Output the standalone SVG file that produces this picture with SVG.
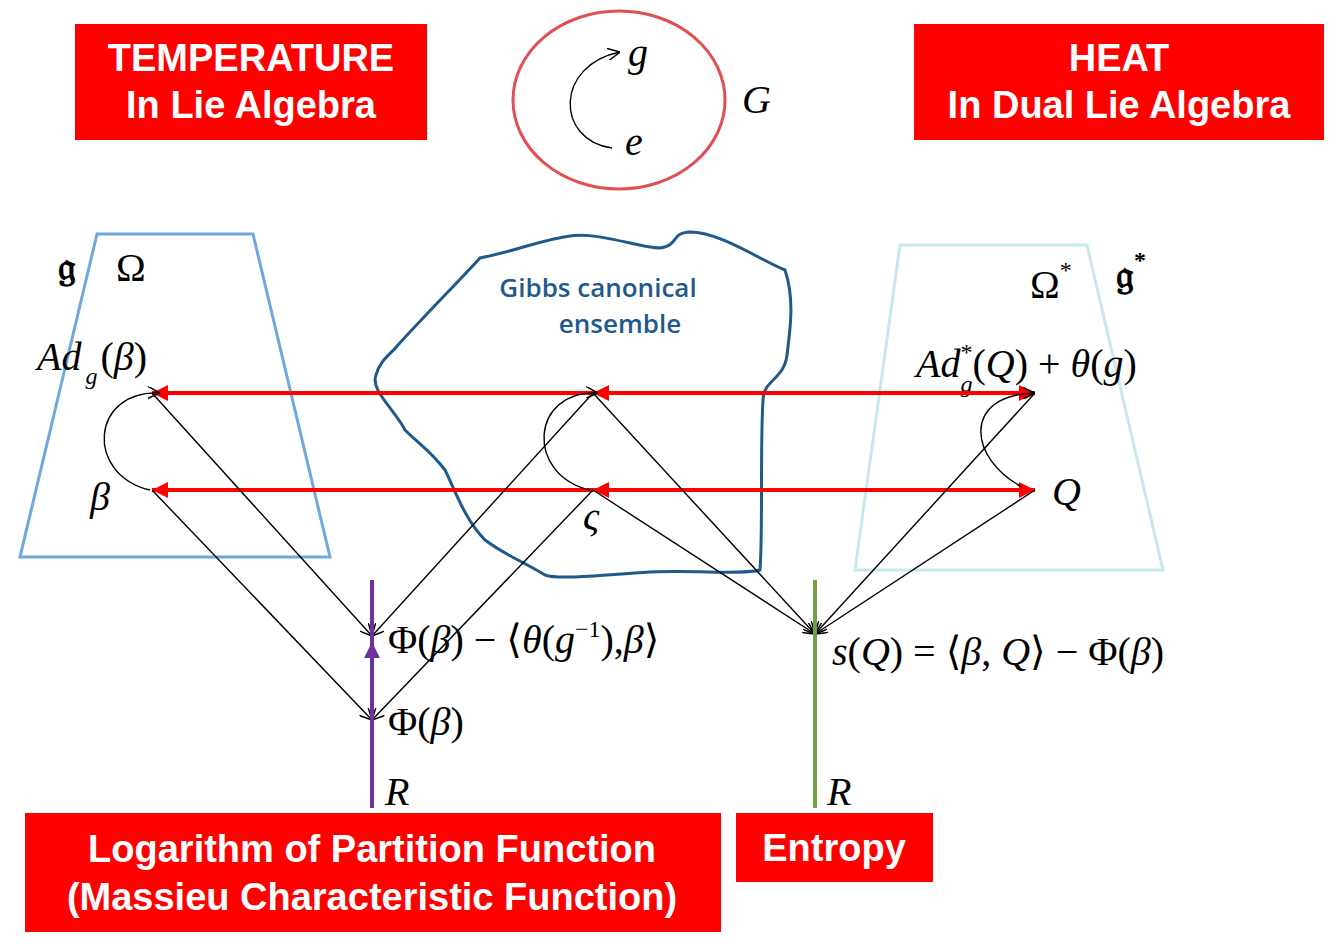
<svg xmlns="http://www.w3.org/2000/svg" width="1340" height="949" viewBox="0 0 1340 949">
<style>
.box{fill:#ff0000}
.bt{font-family:"Liberation Sans",Arial,sans-serif;font-weight:bold;font-size:38px;fill:#fff;text-anchor:middle}
.m{font-family:"Liberation Serif","DejaVu Serif",serif;font-size:40px;fill:#000}
.i{font-style:italic}
.s{font-size:24px}
.red{stroke:#ff0000;stroke-width:4;fill:none}
.blk{stroke:#000;stroke-width:1.4;fill:none}
</style>
<defs>
<marker id="ra" viewBox="0 0 10 10" refX="10" refY="5" markerWidth="4" markerHeight="4" orient="auto-start-reverse"><path d="M0,0L10,5L0,10z" fill="#ff0000"/></marker>
<marker id="ba" viewBox="0 0 10 10" refX="10" refY="5" markerWidth="12" markerHeight="12" markerUnits="userSpaceOnUse" orient="auto"><path d="M0,0L10,5L0,10" fill="none" stroke="#000" stroke-width="1.2"/></marker>
<marker id="pa" viewBox="0 0 10 10" refX="10" refY="5" markerWidth="4" markerHeight="4" orient="auto"><path d="M0,0L10,5L0,10z" fill="#7030a0"/></marker>
</defs>
<rect width="1340" height="949" fill="#fff"/>
<g id="temperature"><rect class="box" x="75" y="24" width="352" height="116"/><text class="bt" x="251" y="71">TEMPERATURE</text><text class="bt" x="251" y="118">In Lie Algebra</text></g>
<g id="heat"><rect class="box" x="914" y="24" width="410" height="116"/><text class="bt" x="1119" y="71">HEAT</text><text class="bt" x="1119" y="118">In Dual Lie Algebra</text></g>
<g id="group"><ellipse cx="619" cy="100" rx="106" ry="89" fill="none" stroke="#e05050" stroke-width="3"/>
<path d="M612,148 C555,140 555,65 620,52" class="blk" marker-end="url(#ba)"/>
<text class="m i" x="628" y="66">g</text><text class="m i" x="625" y="155">e</text><text class="m i" x="742" y="113">G</text></g>
<g id="omega"><polygon points="97,234 253,234 330,557 20,557" fill="none" stroke="#6fa8dc" stroke-width="3"/>
<text class="m" x="58" y="280" font-weight="bold" font-size="30">𝔤</text><text class="m" x="116" y="281">Ω</text></g>
<g id="omegastar"><polygon points="900,245 1087,245 1163,570 855,570" fill="none" stroke="#c8e8f0" stroke-width="3"/>
<text class="m" x="1030" y="298">Ω<tspan class="s" dy="-20">*</tspan></text>
<text class="m" x="1116" y="288" font-weight="bold" font-size="30">𝔤<tspan class="s" dy="-20">*</tspan></text></g>
<g id="gibbs"><path d="M398,345 C430,310 460,280 480,258 C520,250 540,240 570,236 C600,232 640,248 660,248 C680,245 670,233 690,232 C720,232 760,260 785,270 C795,300 790,330 787,355 C784,380 763,380 763,400 C760,450 763,530 760,570 C740,575 700,570 650,572 C600,575 560,580 545,575 C520,560 505,555 485,540 C465,520 455,490 445,470 C430,450 420,445 405,430 C395,410 370,390 376,375 C380,360 390,355 398,345 Z" fill="none" stroke="#1f5a8a" stroke-width="3"/>
<text x="598" y="297" font-family="Open Sans,sans-serif" font-weight="600" font-size="26" fill="#1f5a8a" text-anchor="middle">Gibbs canonical</text>
<text x="620" y="333" font-family="Open Sans,sans-serif" font-weight="600" font-size="26" fill="#1f5a8a" text-anchor="middle">ensemble</text></g>
<g id="labels">
<text class="m" x="37" y="370"><tspan class="i">Ad</tspan><tspan class="i s" dy="14" dx="4">g</tspan><tspan dy="-14" dx="3">(</tspan><tspan class="i">β</tspan>)</text>
<text class="m i" x="90" y="510">β</text>
<text class="m i" x="583" y="530">ς</text>
<text class="m" x="916" y="377"><tspan class="i">Ad</tspan><tspan class="s" dy="-17">*</tspan><tspan class="i s" dx="-12" dy="32">g</tspan><tspan dy="-15">(</tspan><tspan class="i">Q</tspan>) + <tspan class="i">θ</tspan>(<tspan class="i">g</tspan>)</text>
<text class="m i" x="1052" y="505">Q</text>
<text class="m" x="388" y="653">Φ(<tspan class="i">β</tspan>) − ⟨<tspan class="i">θ</tspan>(<tspan class="i">g</tspan><tspan class="s" dy="-16">−1</tspan><tspan dy="16">),</tspan><tspan class="i">β</tspan>⟩</text>
<text class="m" x="388" y="735">Φ(<tspan class="i">β</tspan>)</text>
<text class="m" x="832" y="665"><tspan class="i">s</tspan>(<tspan class="i">Q</tspan>) = ⟨<tspan class="i">β</tspan>, <tspan class="i">Q</tspan>⟩ − Φ(<tspan class="i">β</tspan>)</text>
<text class="m i" x="385" y="805">R</text><text class="m i" x="827" y="805">R</text>
</g>
<g id="connectors">
<line class="red" x1="152" y1="393" x2="1035" y2="393" marker-start="url(#ra)" marker-end="url(#ra)"/>
<line class="red" x1="593" y1="393" x2="620" y2="393" marker-start="url(#ra)"/>
<line class="red" x1="152" y1="490" x2="1035" y2="490" marker-start="url(#ra)" marker-end="url(#ra)"/>
<line class="red" x1="593" y1="490" x2="620" y2="490" marker-start="url(#ra)"/>
<path class="blk" d="M150,490 C85,475 90,390 160,393" marker-end="url(#ba)"/>
<path class="blk" d="M590,490 C525,475 530,390 598,393" marker-end="url(#ba)"/>
<path class="blk" d="M1022,487 C970,460 960,395 1035,393" marker-end="url(#ba)"/>
<line class="blk" x1="152" y1="393" x2="372" y2="636" marker-end="url(#ba)"/>
<line class="blk" x1="593" y1="393" x2="372" y2="636" marker-end="url(#ba)"/>
<line class="blk" x1="152" y1="490" x2="372" y2="720" marker-end="url(#ba)"/>
<line class="blk" x1="593" y1="490" x2="372" y2="720" marker-end="url(#ba)"/>
<line class="blk" x1="593" y1="393" x2="815" y2="634" marker-end="url(#ba)"/>
<line class="blk" x1="593" y1="490" x2="815" y2="634" marker-end="url(#ba)"/>
<line class="blk" x1="1035" y1="393" x2="815" y2="634" marker-end="url(#ba)"/>
<line class="blk" x1="1035" y1="490" x2="815" y2="634" marker-end="url(#ba)"/>
<line x1="372" y1="580" x2="372" y2="808" stroke="#7030a0" stroke-width="4"/>
<line x1="372" y1="700" x2="372" y2="642" stroke="#7030a0" stroke-width="4" marker-end="url(#pa)"/>
<line x1="815" y1="580" x2="815" y2="808" stroke="#70a040" stroke-width="4"/>
</g>
<g id="logpart"><rect class="box" x="25" y="813" width="696" height="119"/><text class="bt" x="372" y="862">Logarithm of Partition Function</text><text class="bt" x="372" y="910">(Massieu Characteristic Function)</text></g>
<g id="entropy"><rect class="box" x="736" y="813" width="197" height="69"/><text class="bt" x="834" y="861">Entropy</text></g>
</svg>
